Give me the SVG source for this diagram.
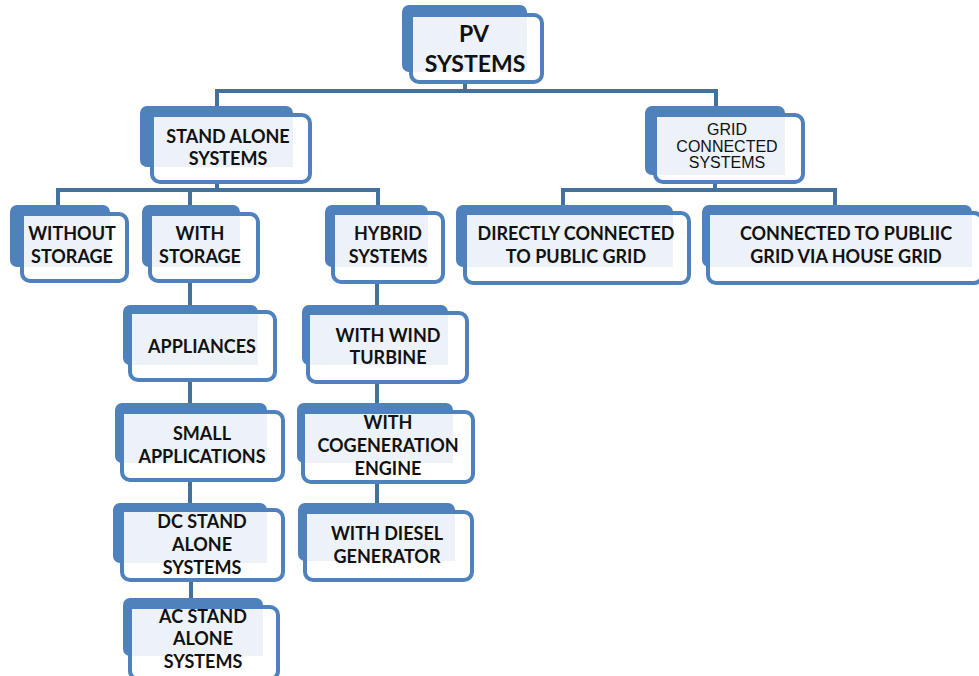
<svg xmlns="http://www.w3.org/2000/svg" width="979" height="676" viewBox="0 0 979 676">
<style>
.back{fill:#4F81BD}
.front{fill:#FFFFFF;stroke:#4F81BD;stroke-width:4}
.lite{fill:#EDF1F8}
.t{font-family:Lato,"Liberation Sans",sans-serif;font-weight:bold;font-size:18px;fill:#111;text-anchor:middle}
.big{font-size:23px}
.reg{font-family:"Liberation Sans",Arial,sans-serif;font-weight:normal;font-size:16px}
.c{fill:none;stroke:#41719C;stroke-width:4}
</style>
<rect width="979" height="676" fill="#FFFFFF"/>
<g id="connectors">
<path class="c" d="M465 82V91M217 107V91H716V107"/>
<path class="c" d="M217 182V190M58 206V190H378V206M190 190V206"/>
<path class="c" d="M715 182V190M563 206V190H835V206"/>
<path class="c" d="M190 280V306M190 380V404M190 480V504M191 580V599"/>
<path class="c" d="M377 282V306M377 382V404M377 482V504"/>
</g>
<g id="pv">
<rect class="back" x="402" y="5" width="125" height="67" rx="7"/>
<rect class="front" x="411" y="15" width="131" height="67" rx="8"/>
<rect class="lite" x="413" y="17" width="114" height="55"/>
<text class="t big" x="474" y="42">PV</text>
<text class="t big" x="475" y="72">SYSTEMS</text>
</g>
<g id="standalone">
<rect class="back" x="140" y="106" width="153" height="61" rx="7"/>
<rect class="front" x="152" y="115" width="158" height="67" rx="8"/>
<rect class="lite" x="154" y="117" width="139" height="50"/>
<text class="t" x="228" y="143">STAND ALONE</text>
<text class="t" x="228" y="165">SYSTEMS</text>
</g>
<g id="grid">
<rect class="back" x="645" y="106" width="140" height="69" rx="7"/>
<rect class="front" x="655" y="115" width="148" height="67" rx="8"/>
<rect class="lite" x="657" y="117" width="128" height="58"/>
<text class="t reg" x="727" y="135">GRID</text>
<text class="t reg" x="727" y="152">CONNECTED</text>
<text class="t reg" x="727" y="168">SYSTEMS</text>
</g>
<g id="without">
<rect class="back" x="10" y="205" width="100" height="62" rx="7"/>
<rect class="front" x="22" y="214" width="105" height="67" rx="8"/>
<rect class="lite" x="24" y="216" width="86" height="51"/>
<text class="t" x="72" y="240">WITHOUT</text>
<text class="t" x="72" y="263">STORAGE</text>
</g>
<g id="withstorage">
<rect class="back" x="142" y="205" width="98" height="62" rx="7"/>
<rect class="front" x="150" y="214" width="108" height="67" rx="8"/>
<rect class="lite" x="152" y="216" width="88" height="51"/>
<text class="t" x="200" y="240">WITH</text>
<text class="t" x="200" y="263">STORAGE</text>
</g>
<g id="hybrid">
<rect class="back" x="325" y="205" width="103" height="62" rx="7"/>
<rect class="front" x="333" y="213" width="110" height="69" rx="8"/>
<rect class="lite" x="335" y="215" width="93" height="52"/>
<text class="t" x="388" y="240">HYBRID</text>
<text class="t" x="388" y="263">SYSTEMS</text>
</g>
<g id="direct">
<rect class="back" x="456" y="205" width="217" height="62" rx="7"/>
<rect class="front" x="465" y="213" width="224" height="70" rx="8"/>
<rect class="lite" x="467" y="215" width="206" height="52"/>
<text class="t" x="576" y="240">DIRECTLY CONNECTED</text>
<text class="t" x="576" y="263">TO PUBLIC GRID</text>
</g>
<g id="house">
<rect class="back" x="702" y="205" width="270" height="62" rx="7"/>
<rect class="front" x="708" y="213" width="274" height="70" rx="8"/>
<rect class="lite" x="710" y="215" width="262" height="52"/>
<text class="t" x="846" y="240">CONNECTED TO PUBLIIC</text>
<text class="t" x="846" y="263">GRID VIA HOUSE GRID</text>
</g>
<g id="appliances">
<rect class="back" x="123" y="305" width="135" height="60" rx="7"/>
<rect class="front" x="130" y="312" width="145" height="68" rx="8"/>
<rect class="lite" x="132" y="314" width="126" height="51"/>
<text class="t" x="202" y="353">APPLIANCES</text>
</g>
<g id="small">
<rect class="back" x="115" y="403" width="152" height="60" rx="7"/>
<rect class="front" x="122" y="412" width="161" height="68" rx="8"/>
<rect class="lite" x="124" y="414" width="143" height="49"/>
<text class="t" x="202" y="440">SMALL</text>
<text class="t" x="202" y="463">APPLICATIONS</text>
</g>
<g id="dc">
<rect class="back" x="113" y="503" width="154" height="60" rx="7"/>
<rect class="front" x="122" y="510" width="161" height="70" rx="8"/>
<rect class="lite" x="124" y="512" width="143" height="51"/>
<text class="t" x="202" y="528">DC STAND</text>
<text class="t" x="202" y="551">ALONE</text>
<text class="t" x="202" y="574">SYSTEMS</text>
</g>
<g id="ac">
<rect class="back" x="123" y="598" width="140" height="58" rx="7"/>
<rect class="front" x="130" y="607" width="148" height="72" rx="8"/>
<rect class="lite" x="132" y="609" width="131" height="47"/>
<text class="t" x="203" y="623">AC STAND</text>
<text class="t" x="203" y="645">ALONE</text>
<text class="t" x="203" y="668">SYSTEMS</text>
</g>
<g id="wind">
<rect class="back" x="302" y="305" width="146" height="60" rx="7"/>
<rect class="front" x="308" y="313" width="159" height="69" rx="8"/>
<rect class="lite" x="310" y="315" width="138" height="50"/>
<text class="t" x="388" y="342">WITH WIND</text>
<text class="t" x="388" y="364">TURBINE</text>
</g>
<g id="cogen">
<rect class="back" x="297" y="403" width="156" height="60" rx="7"/>
<rect class="front" x="303" y="412" width="170" height="70" rx="8"/>
<rect class="lite" x="305" y="414" width="148" height="49"/>
<text class="t" x="388" y="429">WITH</text>
<text class="t" x="388" y="452">COGENERATION</text>
<text class="t" x="388" y="475">ENGINE</text>
</g>
<g id="diesel">
<rect class="back" x="298" y="503" width="157" height="58" rx="7"/>
<rect class="front" x="305" y="512" width="167" height="68" rx="8"/>
<rect class="lite" x="307" y="514" width="148" height="47"/>
<text class="t" x="387" y="540">WITH DIESEL</text>
<text class="t" x="387" y="563">GENERATOR</text>
</g>
</svg>
